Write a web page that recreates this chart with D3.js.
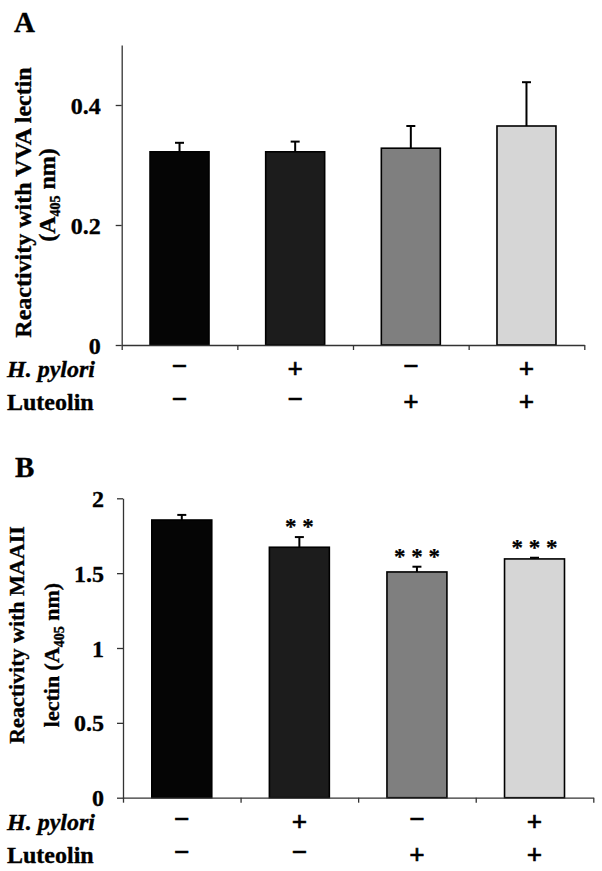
<!DOCTYPE html>
<html>
<head>
<meta charset="utf-8">
<script src="https://cdn.jsdelivr.net/npm/d3@7"></script>
<style>
  html, body { margin: 0; padding: 0; background: #fff; }
  svg { display: block; }
  text { font-family: "Liberation Serif", "Times New Roman", serif; font-weight: bold; fill: #000; stroke: #000; stroke-width: 0.35px; }
</style>
</head>
<body>
<svg id="chart" width="602" height="871"></svg>
<script>
// ---------------- data ----------------
const groups = ["Control", "H. pylori", "Luteolin", "H. pylori + Luteolin"];
const hpyloriSigns = ["\u2212", "+", "\u2212", "+"];
const luteolinSigns = ["\u2212", "\u2212", "+", "+"];
const barColors = ["#050505", "#1c1c1c", "#7f7f7f", "#d6d6d6"];

const vvaMean = [0.322, 0.322, 0.328, 0.365];
const vvaErr  = [0.015, 0.017, 0.037, 0.073];
const vvaTicks = [0, 0.2, 0.4];
const vvaMax = 0.5;

const maaMean = [1.855, 1.673, 1.508, 1.595];
const maaErr  = [0.034, 0.068, 0.035, 0.008];
const maaSig  = ["", "* *", "* * *", "* * *"];
const maaTicks = [0, 0.5, 1, 1.5, 2];
const maaMax = 2;

// ---------------- drawing ----------------
const svg = d3.select("#chart");

function drawPanel(p) {
  const g = svg.append("g");
  const y = d3.scaleLinear().domain([0, p.max]).range([p.y0, p.yTop]);
  const xb = d3.scaleBand().domain(groups).range([p.x0, p.x1]).paddingInner(0.49).paddingOuter(0.245);
  const xl = d3.scaleLinear().domain([0, groups.length]).range([p.x0, p.x1]);
  const cx = i => xb(groups[i]) + xb.bandwidth() / 2;

  // bars
  g.selectAll("rect.bar").data(p.mean).enter().append("rect")
    .attr("x", (d, i) => xb(groups[i]))
    .attr("width", xb.bandwidth())
    .attr("y", d => y(d))
    .attr("height", d => y(0) - y(d))
    .attr("fill", (d, i) => barColors[i])
    .attr("stroke", "#000")
    .attr("stroke-width", 1.6);

  // error bars
  const eb = g.selectAll("g.err").data(p.mean).enter().append("g");
  eb.append("line")
    .attr("x1", (d, i) => cx(i)).attr("x2", (d, i) => cx(i))
    .attr("y1", d => y(d))
    .attr("y2", (d, i) => y(d + p.err[i]))
    .attr("stroke", "#000").attr("stroke-width", 2);
  eb.append("line")
    .attr("x1", (d, i) => cx(i) - 4.5).attr("x2", (d, i) => cx(i) + 4.5)
    .attr("y1", (d, i) => y(d + p.err[i]))
    .attr("y2", (d, i) => y(d + p.err[i]))
    .attr("stroke", "#000").attr("stroke-width", 2);

  // significance
  if (p.sig) {
    g.selectAll("text.sig").data(p.sig).enter().append("text")
      .attr("x", (d, i) => cx(i))
      .attr("y", (d, i) => y(p.mean[i] + p.err[i]) - 14 + 11)
      .attr("text-anchor", "middle")
      .style("font-size", "23px")
      .style("stroke-width", "0.2px")
      .text(d => d);
  }

  // y axis
  const ya = g.append("g").attr("transform", `translate(${p.x0},0)`)
    .call(d3.axisLeft(y).tickValues(p.ticks).tickSize(6).tickSizeOuter(0).tickPadding(p.tickPad).tickFormat(d3.format("")));
  ya.select(".domain").attr("stroke", "#333").attr("stroke-width", 1.3);
  ya.selectAll(".tick line").attr("stroke", "#333").attr("stroke-width", 1.3);
  ya.selectAll(".tick text").attr("dy", null).attr("y", 8)
    .style("font-size", "24px").style("font-family", "'Liberation Serif', 'Times New Roman', serif")
    .style("font-weight", "bold").attr("fill", "#000").attr("stroke", "#000").attr("stroke-width", 0.35);

  // x axis (boundary ticks)
  const xa = g.append("g").attr("transform", `translate(0,${p.y0})`)
    .call(d3.axisBottom(xl).tickValues(d3.range(groups.length + 1)).tickSize(5).tickSizeOuter(0).tickFormat(""));
  xa.select(".domain").attr("stroke", "#333").attr("stroke-width", 1.3);
  xa.selectAll(".tick line").attr("stroke", "#333").attr("stroke-width", 1.3);

  // condition rows
  const r1 = p.y0 + 32, r2 = p.y0 + 65;
  g.append("text").attr("x", 7).attr("y", r1).style("font-size", "24px").style("font-style", "italic").text("H. pylori");
  g.append("text").attr("x", 7).attr("y", r2).style("font-size", "24px").text("Luteolin");
  [[hpyloriSigns, r1], [luteolinSigns, r2]].forEach(([signs, ry]) => {
    g.selectAll(null).data(signs).enter().append("text")
      .attr("x", (d, i) => cx(i))
      .attr("y", d => d === "+" ? ry + 1 : ry - 2)
      .attr("text-anchor", "middle")
      .style("font-size", "27px")
      .style("stroke-width", "0.7px")
      .text(d => d);
  });

  // panel letter
  g.append("text").attr("x", p.letterX).attr("y", p.letterY).style("font-size", "29px").text(p.letter);

  // y label
  g.append("text")
    .attr("transform", `translate(${p.lab1X},${p.lab1Y}) rotate(-90)`)
    .attr("text-anchor", "middle").style("font-size", p.labSize + "px")
    .text(p.label1);
  const l2 = g.append("text")
    .attr("transform", `translate(${p.lab2X},${p.lab2Y}) rotate(-90)`)
    .attr("text-anchor", "middle").style("font-size", p.labSize + "px");
  l2.append("tspan").text(p.label2a);
  l2.append("tspan").attr("dy", 5).style("font-size", "14px").text("405");
  l2.append("tspan").attr("dy", -5).text(" nm)");
}

drawPanel({
  mean: vvaMean, err: vvaErr, ticks: vvaTicks, max: vvaMax, sig: null,
  x0: 121.7, x1: 584.3, y0: 345, yTop: 45, tickPad: 15,
  letter: "A", letterX: 14, letterY: 31.5,
  label1: "Reactivity with VVA lectin", label2a: "(A",
  lab1X: 30.5, lab1Y: 202.5, lab2X: 55, lab2Y: 195, labSize: 24
});

drawPanel({
  mean: maaMean, err: maaErr, ticks: maaTicks, max: maaMax, sig: maaSig,
  x0: 123, x1: 593.3, y0: 797.7, yTop: 498.3, tickPad: 13,
  letter: "B", letterX: 15, letterY: 477,
  label1: "Reactivity with MAAII", label2a: "lectin (A",
  lab1X: 24, lab1Y: 635, lab2X: 58.5, lab2Y: 655, labSize: 22
});
</script>
</body>
</html>
